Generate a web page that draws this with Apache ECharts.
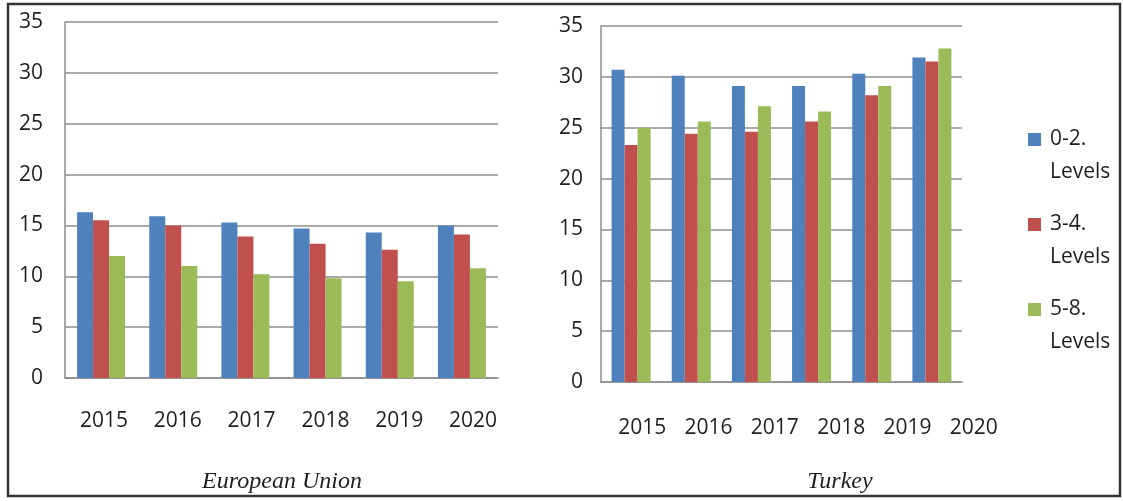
<!DOCTYPE html>
<html>
<head>
<meta charset="utf-8">
<script src="https://cdn.jsdelivr.net/npm/echarts@6/dist/echarts.min.js"></script>
<style>
    html, body { margin: 0; padding: 0; background: #fff; }
    #chart { width: 1123px; height: 501px; }
</style>
</head>
<body>
<div id="chart"></div>
<script>
const years = ['2015', '2016', '2017', '2018', '2019', '2020'];
const seriesNames = ['0-2. Levels', '3-4. Levels', '5-8. Levels'];
const yTicks = [0, 5, 10, 15, 20, 25, 30, 35];

// European Union
const euLow = [16.3, 15.9, 15.3, 14.7, 14.3, 15.0];
const euMid = [15.5, 15.0, 13.9, 13.2, 12.6, 14.1];
const euHigh = [12.0, 11.0, 10.2, 9.8, 9.5, 10.8];

// Turkey
const trLow = [30.7, 30.1, 29.1, 29.1, 30.3, 31.9];
const trMid = [23.3, 24.4, 24.6, 25.6, 28.2, 31.5];
const trHigh = [25.0, 25.6, 27.1, 26.6, 29.1, 32.8];

const colors = ['#4f81bd', '#c0504d', '#9bbb59'];
const gridGrey = '#8e8e8e';
const textColor = '#1f1f1f';
const labelFont = { fontFamily: 'Open Sans', fontSize: 21, color: textColor };

const myChart = echarts.init(document.getElementById('chart'));

const valueAxis = (gridIndex, margin) => ({
    type: 'value',
    gridIndex: gridIndex,
    min: yTicks[0],
    max: yTicks[yTicks.length - 1],
    interval: 5,
    axisLine: { show: true, lineStyle: { color: gridGrey, width: 1.5 } },
    axisTick: { show: false },
    splitLine: { lineStyle: { color: gridGrey, width: 1.5 } },
    axisLabel: Object.assign({ margin: margin }, labelFont)
});

const hiddenValueAxis = (gridIndex) => ({
    type: 'value',
    gridIndex: gridIndex,
    show: false
});

const barAxis = (gridIndex) => ({
    type: 'category',
    gridIndex: gridIndex,
    data: years,
    axisLine: { show: true, lineStyle: { color: gridGrey, width: 1.5 } },
    axisTick: { show: false },
    axisLabel: { show: false }
});

// the year labels in the picture do not sit exactly under the bars,
// so they get their own axis
const labelAxis = (gridIndex, margin) => ({
    type: 'category',
    gridIndex: gridIndex,
    data: years,
    axisLine: { show: false },
    axisTick: { show: false },
    axisLabel: Object.assign({ margin: margin, verticalAlign: 'middle' }, labelFont)
});

const barSeries = (name, data, axisIndex, width, color) => ({
    name: name,
    type: 'bar',
    xAxisIndex: axisIndex,
    yAxisIndex: axisIndex,
    data: data,
    barWidth: width,
    barGap: '0%',
    itemStyle: { color: color },
    animation: false
});

const option = {
    backgroundColor: '#fff',
    grid: [
        { left: 65, top: 22, width: 433, height: 356 },
        { left: 601, top: 26, width: 361, height: 356 },
        { left: 67, top: 350, width: 443, height: 50 },
        { left: 609, top: 350, width: 398, height: 50 }
    ],
    xAxis: [barAxis(0), barAxis(1), labelAxis(2, 21), labelAxis(3, 28)],
    yAxis: [valueAxis(0, 22), valueAxis(1, 18), hiddenValueAxis(2), hiddenValueAxis(3)],
    legend: {
        orient: 'vertical',
        left: 1023,
        top: 118,
        itemWidth: 13,
        itemHeight: 66,
        itemGap: 19,
        icon: 'path://M0,10h13v13h-13z M0,0h0.01v0.01h-0.01z M12.99,66h0.01v-0.01h-0.01z',
        formatter: (name) => name.replace(' ', '\n'),
        textStyle: {
            fontFamily: 'Open Sans',
            fontSize: 21,
            color: textColor,
            lineHeight: 33,
            padding: [0, 0, 0, 4]
        },
        data: seriesNames
    },
    title: [
        {
            text: 'European Union',
            left: 277,
            top: 465,
            textAlign: 'center',
            textStyle: { fontFamily: 'Liberation Serif', fontStyle: 'italic', fontWeight: 'normal', fontSize: 24, color: textColor }
        },
        {
            text: 'Turkey',
            left: 835,
            top: 465,
            textAlign: 'center',
            textStyle: { fontFamily: 'Liberation Serif', fontStyle: 'italic', fontWeight: 'normal', fontSize: 24, color: textColor }
        }
    ],
    graphic: [
        {
            type: 'rect',
            shape: { x: 8, y: 4, width: 1112, height: 492 },
            style: { fill: 'none', stroke: '#333', lineWidth: 2.5 },
            silent: true
        }
    ],
    series: [
        barSeries(seriesNames[0], euLow, 0, 16, colors[0]),
        barSeries(seriesNames[1], euMid, 0, 16, colors[1]),
        barSeries(seriesNames[2], euHigh, 0, 16, colors[2]),
        barSeries(seriesNames[0], trLow, 1, 13, colors[0]),
        barSeries(seriesNames[1], trMid, 1, 13, colors[1]),
        barSeries(seriesNames[2], trHigh, 1, 13, colors[2])
    ],
    animation: false
};

myChart.setOption(option);

window.addEventListener('resize', () => {
    myChart.resize();
});
</script>
</body>
</html>
